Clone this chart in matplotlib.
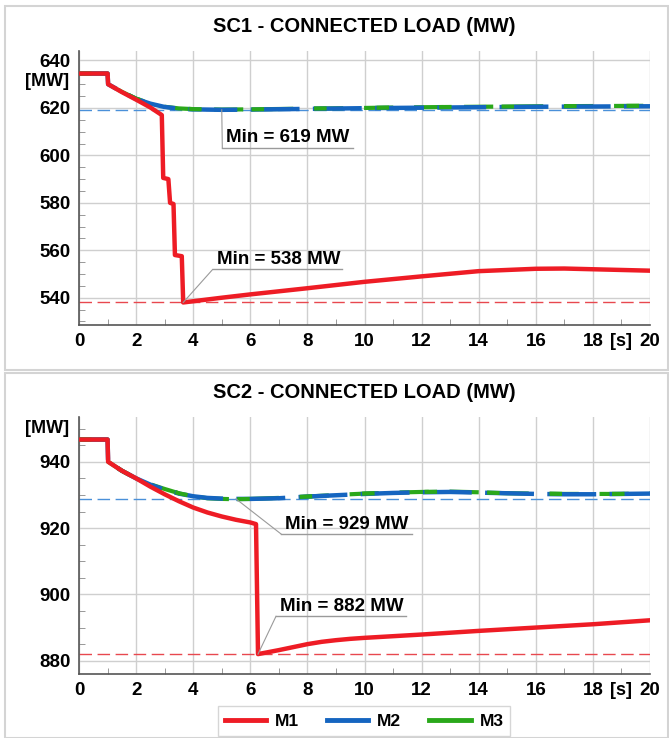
import numpy as np
import matplotlib
matplotlib.use("Agg")
import matplotlib.pyplot as plt
from matplotlib.patches import Rectangle
from matplotlib.lines import Line2D
from matplotlib.ticker import MultipleLocator

plt.rcParams["font.family"] = ["Liberation Sans Narrow", "Liberation Sans", "DejaVu Sans"]
plt.rcParams["font.weight"] = "bold"

COL_M1 = "#ee1c25"
COL_M2 = "#1565c0"
COL_M3 = "#2aa81a"
COL_MIN_M1 = "#e8484f"
COL_MIN_M2 = "#4a90d9"
COL_GRID = "#cfcfcf"
COL_NOTE = "#9a9a9a"

# ---- SC1 data ----
sc1_t_m1 = [0, 1.0, 1.02, 1.5, 2.0, 2.5, 2.9, 2.95, 3.13, 3.19, 3.31, 3.36, 3.6, 3.65,
            5, 6, 8, 10, 12, 14, 16, 17, 18, 20]
sc1_m1 = [634.5, 634.5, 630.0, 626.7, 623.5, 620.2, 617.0, 590.5, 590.0, 580.0, 579.5, 558.0, 557.5, 538.0,
          540.0, 541.4, 544.0, 546.7, 549.0, 551.2, 552.2, 552.3, 552.0, 551.4]

sc1_t_m23 = [0, 1.0, 1.02, 1.5, 2.0, 2.5, 3.0, 3.5, 4.0, 5.0, 6, 8, 10, 12, 14, 16, 18, 20]
sc1_m2 = [634.5, 634.5, 630.0, 626.8, 623.8, 621.8, 620.4, 619.7, 619.4, 619.2, 619.3, 619.6, 619.9,
          620.1, 620.3, 620.5, 620.6, 620.7]
sc1_m3 = [634.5, 634.5, 630.0, 626.8, 623.9, 621.9, 620.5, 619.8, 619.5, 619.3, 619.4, 619.7, 620.0,
          620.3, 620.5, 620.7, 620.8, 620.9]

# ---- SC2 data ----
sc2_t_m1 = [0, 1.0, 1.02, 1.5, 2, 2.5, 3, 3.5, 4, 4.5, 5, 5.5, 6, 6.2, 6.27,
            7, 7.5, 8, 8.5, 9, 9.5, 10, 12, 14, 16, 18, 20]
sc2_m1 = [946.7, 946.7, 940.0, 937.3, 935.0, 932.5, 930.2, 928.1, 926.2, 924.7, 923.5, 922.5, 921.7, 921.2, 882.0,
          883.2, 884.1, 885.0, 885.7, 886.2, 886.6, 886.9, 887.9, 889.0, 890.0, 891.0, 892.2]

sc2_t_m23 = [0, 1.0, 1.02, 1.5, 2, 2.5, 3, 3.5, 4, 4.5, 5, 5.5, 6, 7, 8, 9, 10, 11, 12, 13, 14,
             15, 16, 17, 18, 19, 20]
sc2_m2 = [946.7, 946.7, 940.0, 937.3, 935.0, 933.1, 931.6, 930.4, 929.6, 929.1, 928.9, 928.8, 928.8,
          929.0, 929.5, 929.9, 930.3, 930.6, 930.8, 930.9, 930.7, 930.5, 930.3, 930.2, 930.2, 930.3, 930.4]
sc2_m3 = [946.7, 946.7, 940.0, 937.3, 935.0, 933.2, 931.8, 930.5, 929.6, 929.0, 928.8, 928.7, 928.8,
          929.1, 929.5, 930.0, 930.4, 930.7, 930.9, 931.0, 930.8, 930.5, 930.4, 930.3, 930.3, 930.3, 930.5]

titles = ["SC1 - CONNECTED LOAD (MW)", "SC2 - CONNECTED LOAD (MW)"]
labels = ["M1", "M2", "M3"]

W, H = 669, 738
fig = plt.figure(figsize=(W / 100, H / 100), dpi=100)


def px_axes(left, top, right, bottom):
    return fig.add_axes([left / W, 1 - bottom / H, (right - left) / W, (bottom - top) / H])


def panel_box(top, bottom):
    fig.patches.append(Rectangle((5 / W, 1 - bottom / H), (W - 6) / W, (bottom - top) / H,
                                 transform=fig.transFigure, fill=False,
                                 edgecolor="#d4d4d4", linewidth=1.5))


def note(ax, x_pt, y_pt, x0, x1, y_line, text):
    ax.plot([x_pt, x0], [y_pt, y_line], color=COL_NOTE, lw=0.8, zorder=6)
    ax.plot([x0, x1], [y_line, y_line], color=COL_NOTE, lw=1.0, zorder=6)
    ax.annotate(text, (x0, y_line), xytext=(3, 1), textcoords="offset points",
                ha="left", va="bottom", fontsize=13.5, fontweight="bold", zorder=7)


def style_axes(ax, ylim, yticks, title, mw_y):
    ax.set_xlim(0, 20)
    ax.set_ylim(*ylim)
    ax.set_xticks(range(0, 21, 2))
    ax.xaxis.set_minor_locator(MultipleLocator(1))
    ax.set_yticks(yticks)
    ax.yaxis.set_minor_locator(MultipleLocator(5))
    ax.grid(True, which="major", color=COL_GRID, lw=1.0)
    ax.set_axisbelow(True)
    ax.tick_params(which="both", direction="in", labelsize=13.5, color="#888888")
    ax.tick_params(which="major", length=0, pad=6)
    ax.tick_params(which="minor", length=4)
    for s in ["top", "right"]:
        ax.spines[s].set_visible(False)
    for s in ["left", "bottom"]:
        ax.spines[s].set_color("#555555")
        ax.spines[s].set_linewidth(1.2)
    for lab in ax.get_xticklabels() + ax.get_yticklabels():
        lab.set_fontweight("bold")
    ax.set_title(title, fontsize=14.5, fontweight="bold", pad=14)
    ax.text(-0.35, mw_y, "[MW]", ha="right", va="center", fontsize=13, fontweight="bold")
    ax.text(19.0, ylim[0] - (ylim[1] - ylim[0]) * 0.03, "[s]", ha="center", va="top",
            fontsize=13, fontweight="bold")


def draw_series(ax, t1, m1, t23, m2, m3):
    ax.plot(t23, m3, color=COL_M3, lw=3.0, dashes=(7, 5), zorder=3)
    ax.plot(t23, m2, color=COL_M2, lw=3.2, dashes=(11, 3), zorder=4)
    ax.plot(t23, m3, color=COL_M3, lw=3.0, dashes=(3, 12), zorder=4.5)
    ax.plot(t1, m1, color=COL_M1, lw=3.2, zorder=5)
    ax.axhline(min(m2), color=COL_MIN_M2, lw=1.0, dashes=(9, 4), zorder=2.5)
    ax.axhline(min(m1), color=COL_MIN_M1, lw=1.0, dashes=(9, 4), zorder=2.5)


panel_box(6, 370)
panel_box(373, 738)

# top panel
ax1 = px_axes(79, 51, 650, 325)
draw_series(ax1, sc1_t_m1, sc1_m1, sc1_t_m23, sc1_m2, sc1_m3)
style_axes(ax1, (528.5, 644), range(540, 641, 20), titles[0], 631)
i2 = int(np.argmin(sc1_m2))
note(ax1, sc1_t_m23[i2], sc1_m2[i2], 5.02, 9.6, 603.2, f"Min = {min(sc1_m2):.0f} MW")
i1 = int(np.argmin(sc1_m1))
note(ax1, sc1_t_m1[i1], sc1_m1[i1], 4.68, 9.2, 551.9, f"Min = {min(sc1_m1):.0f} MW")

# bottom panel
ax2 = px_axes(79, 417, 650, 674)
draw_series(ax2, sc2_t_m1, sc2_m1, sc2_t_m23, sc2_m2, sc2_m3)
style_axes(ax2, (876, 953.5), range(880, 941, 20), titles[1], 950)
i2 = int(np.argmin(sc2_m2))
note(ax2, sc2_t_m23[i2], sc2_m2[i2], 7.08, 11.67, 918.2, f"Min = {min(sc2_m2):.0f} MW")
i1 = int(np.argmin(sc2_m1))
note(ax2, sc2_t_m1[i1], sc2_m1[i1], 6.9, 11.45, 893.4, f"Min = {min(sc2_m1):.0f} MW")

handles = [Line2D([], [], color=c, lw=3.5) for c in (COL_M1, COL_M2, COL_M3)]
leg = fig.legend(handles, labels, loc="center", bbox_to_anchor=(364 / W, 1 - 721 / H), ncol=3,
                 frameon=True, fancybox=False, edgecolor="#cccccc", fontsize=12.5,
                 handlelength=2.4, columnspacing=1.6, handletextpad=0.5, borderpad=0.4)
for t in leg.get_texts():
    t.set_fontweight("bold")

fig.savefig("out.png", dpi=100, facecolor="white")
